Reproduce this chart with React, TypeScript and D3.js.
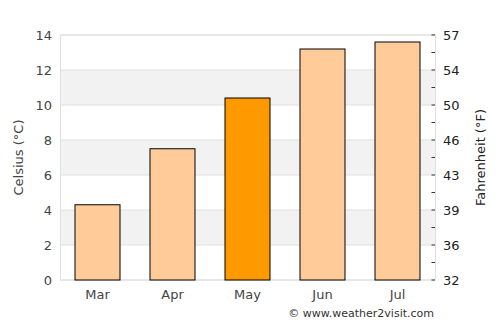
import React from "react";
import * as d3 from "d3";

const months = ["Mar", "Apr", "May", "Jun", "Jul"];
const celsius = [4.3, 7.5, 10.4, 13.2, 13.6];
const highlight = ["May"];
const cTicks = [0, 2, 4, 6, 8, 10, 12, 14];
const fLabels = ["32", "36", "39", "43", "46", "50", "54", "57"];

export default function App() {
  const W = 500, H = 325;
  const left = 60, right = 435, top = 35, bottom = 280;
  const x = d3.scaleBand<string>().domain(months).range([left, right]).paddingInner(0.4).paddingOuter(0.2);
  const y = d3.scaleLinear().domain([0, 14]).range([bottom, top]);
  const font = "DejaVu Sans, sans-serif";
  const minor = d3.range(0, 15, 1);
  return (
    <svg width={W} height={H} style={{ position: "absolute", left: 0, top: 0 }} fontFamily={font}>
      <rect x={0} y={0} width={W} height={H} fill="#fff" />
      {cTicks.slice(0, -1).map((t, i) => (
        <rect key={"b" + t} x={left} y={y(t + 2)} width={right - left} height={y(t) - y(t + 2)}
          fill={i % 2 === 1 ? "#f2f2f2" : "#ffffff"} />
      ))}
      {cTicks.map(t => (
        <line key={"g" + t} x1={left} x2={right} y1={y(t)} y2={y(t)} stroke="#e0e0e0" strokeWidth={1} />
      ))}
      <rect x={left + 0.5} y={top} width={right - left} height={bottom - top} fill="none" stroke="#e0e0e0" />
      {minor.map(t => (
        <line key={"m" + t} x1={right - 3.5} x2={right} y1={y(t)} y2={y(t)} stroke="#333" strokeWidth={1} />
      ))}
      {months.map((m, i) => (
        <rect key={m} x={x(m)!} y={y(celsius[i])} width={x.bandwidth()} height={bottom - y(celsius[i])}
          fill={highlight.includes(m) ? "#ff9900" : "#ffcc99"} stroke="#000" strokeWidth={1} />
      ))}
      {cTicks.map(t => (
        <text key={"l" + t} x={52} y={y(t)} dy="0.35em" textAnchor="end" fontSize={13} fill="#444">{t}</text>
      ))}
      {fLabels.map((f, i) => (
        <text key={"f" + f} x={443} y={y(cTicks[i])} dy="0.35em" textAnchor="start" fontSize={13} fill="#222">{f}</text>
      ))}
      {months.map(m => (
        <text key={"x" + m} x={x(m)! + x.bandwidth() / 2} y={299} textAnchor="middle" fontSize={13} fill="#444">{m}</text>
      ))}
      <text transform={`translate(23,${(top + bottom) / 2}) rotate(-90)`} textAnchor="middle" fontSize={13} fill="#444">Celsius (°C)</text>
      <text transform={`translate(485,${(top + bottom) / 2}) rotate(-90)`} textAnchor="middle" fontSize={13} fill="#222">Fahrenheit (°F)</text>
      <text x={434} y={317} textAnchor="end" fontSize={11} fill="#333">© www.weather2visit.com</text>
    </svg>
  );
}
